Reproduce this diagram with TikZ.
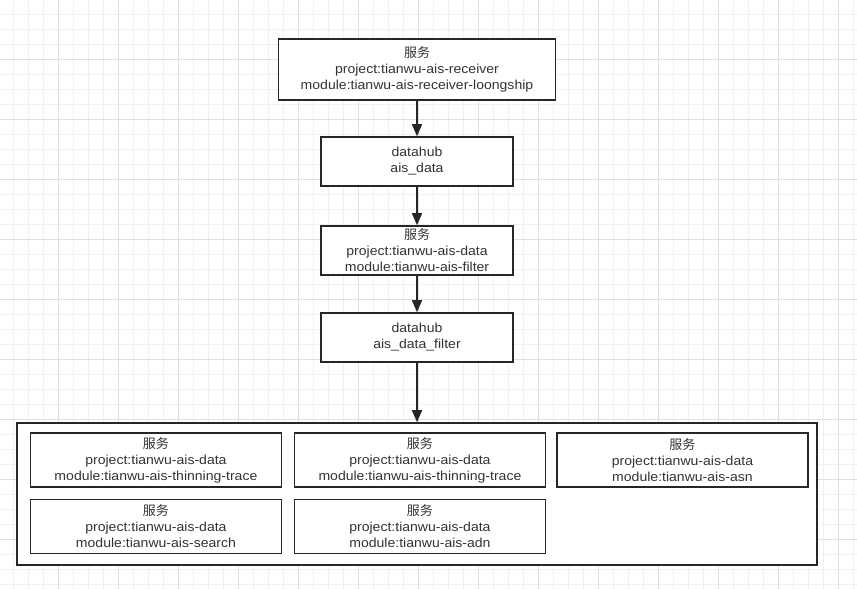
\documentclass[tikz,border=0pt]{standalone}
\usepackage{fontspec}
\setmainfont[FakeStretch=1.08]{Liberation Sans}
\newfontfamily\cjk{Noto Sans CJK SC}
\usetikzlibrary{arrows.meta, positioning}
\def\LineColor{black!85}
\def\TextColor{black!80}
\def\MinorGrid{black!6}
\def\MajorGrid{black!12}

\begin{document}
\begin{tikzpicture} [
    x=1pt, y=-1pt,
    N/.style = {draw=\LineColor, line width=1.6pt, fill=white, text=\TextColor, align=center,
                minimum width=192pt, minimum height=49pt, inner sep=0pt, font=\fontsize{13}{16}\selectfont},
    W/.style = {N, minimum width=277pt, minimum height=61pt},
    S/.style = {N, line width=1.5pt, minimum width=251pt, minimum height=54pt},
    G/.style = {draw=\LineColor, line width=1.6pt, fill=white, minimum width=800pt, minimum height=142pt},
    every edge/.style={draw=\LineColor, -{Triangle[length=12pt,width=10pt]}, line width=1.6pt}
    ]

  \useasboundingbox (0,0) rectangle (857,589);

  %%% GRID %%%
  \foreach \k in {0,...,56} \draw[\MinorGrid, line width=1pt] ({13.3+15*\k},0) -- ({13.3+15*\k},589);
  \foreach \k in {0,...,38} \draw[\MinorGrid, line width=1pt] (0,{14.3+15*\k}) -- (857,{14.3+15*\k});
  \foreach \k in {3,7,...,55} \draw[\MajorGrid, line width=1pt] ({13.3+15*\k},0) -- ({13.3+15*\k},589);
  \foreach \k in {3,7,...,35} \draw[\MajorGrid, line width=1pt] (0,{14.3+15*\k}) -- (857,{14.3+15*\k});

  %%% RECEIVER %%%
  \node[W] (receiver) at (417,69.5) {{\cjk 服务}\\project:tianwu-ais-receiver\\module:tianwu-ais-receiver-loongship};

  %%% DATAHUB ais_data %%%
  \node[N] (aisdata) [below =35.4pt of receiver] {datahub\\ais\_data};

  %%% FILTER %%%
  \node[N] (filter) [below =38.4pt of aisdata] {{\cjk 服务}\\project:tianwu-ais-data\\module:tianwu-ais-filter};

  %%% DATAHUB ais_data_filter %%%
  \node[N] (aisfilter) [below =36.4pt of filter] {datahub\\ais\_data\_filter};

  %%% GROUP %%%
  \node[G] (group) [below =59.4pt of aisfilter] {};
    % services in the group
    \node[S] (thinning) [below right =10pt and 13.5pt of group.north west] {{\cjk 服务}\\project:tianwu-ais-data\\module:tianwu-ais-thinning-trace};
    \node[S] (thinningb) [right =11.5pt of thinning] {{\cjk 服务}\\project:tianwu-ais-data\\module:tianwu-ais-thinning-trace};
    \node[S] (asn) [right =10pt of thinningb] {{\cjk 服务}\\project:tianwu-ais-data\\module:tianwu-ais-asn};
    \node[S] (search) [below =11pt of thinning] {{\cjk 服务}\\project:tianwu-ais-data\\module:tianwu-ais-search};
    \node[S] (adn) [below =11pt of thinningb] {{\cjk 服务}\\project:tianwu-ais-data\\module:tianwu-ais-adn};

  % Edges
  \path (receiver) edge (aisdata);
  \path (aisdata) edge (filter);
  \path (filter) edge (aisfilter);
  \path (aisfilter) edge (group);

\end{tikzpicture}
\end{document}
